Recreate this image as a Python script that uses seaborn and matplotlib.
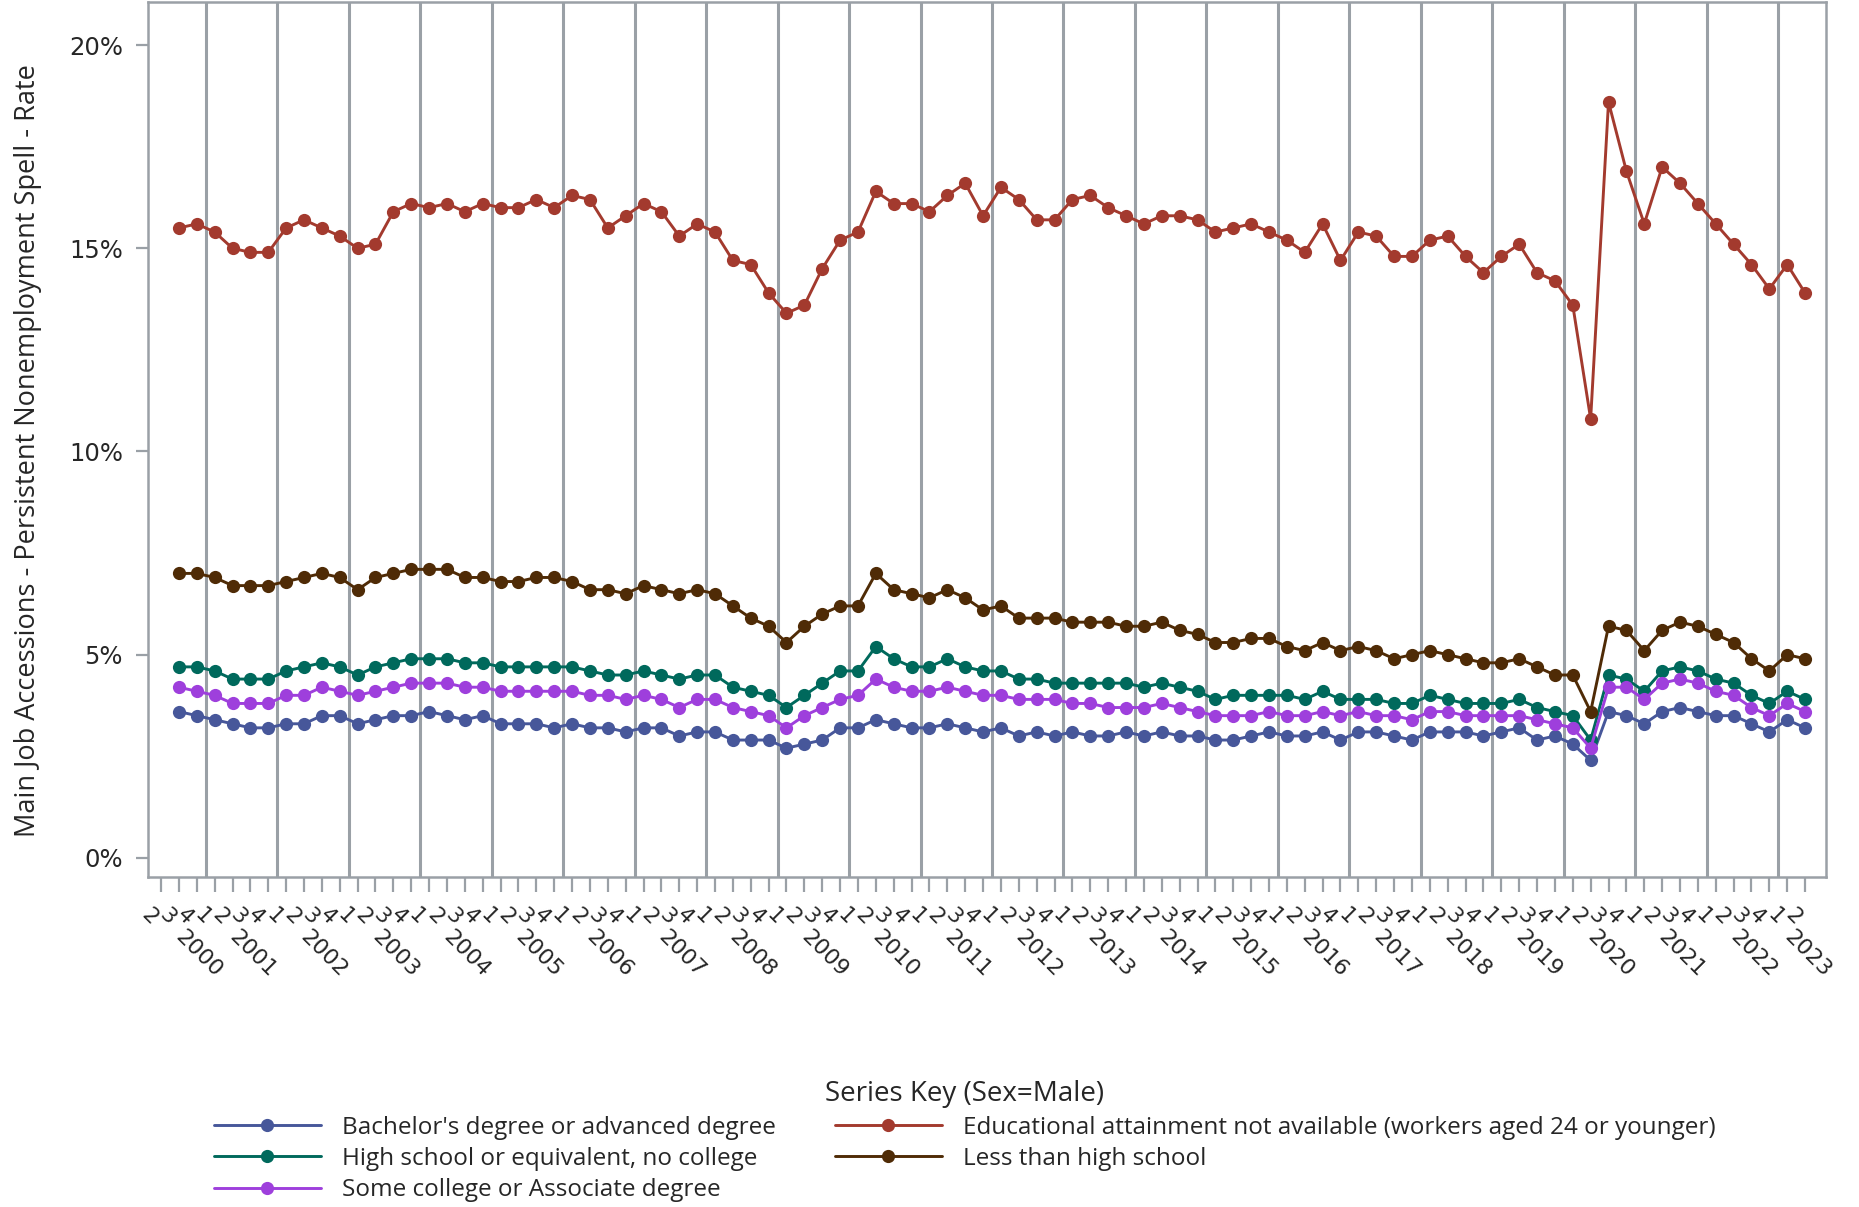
import numpy as np
import pandas as pd
import matplotlib
matplotlib.use("Agg")
import matplotlib.pyplot as plt
from matplotlib.lines import Line2D
from matplotlib.transforms import blended_transform_factory
import seaborn as sns

# ---------------- data ----------------
# x axis: 2000Q2 ... 2023Q2 (93 quarter ticks); data start at 2000Q3
quarter_labels = ["2", "3", "4"] + ["1", "2", "3", "4"] * 22 + ["1", "2"]
years = list(range(2000, 2024))

bachelor = [3.6, 3.5, 3.4, 3.3, 3.2, 3.2, 3.3, 3.3, 3.5, 3.5, 3.3, 3.4, 3.5, 3.5, 3.6, 3.5,
            3.4, 3.5, 3.3, 3.3, 3.3, 3.2, 3.3, 3.2, 3.2, 3.1, 3.2, 3.2, 3.0, 3.1, 3.1,
            2.9, 2.9, 2.9, 2.7, 2.8, 2.9, 3.2, 3.2, 3.4, 3.3, 3.2, 3.2, 3.3, 3.2, 3.1, 3.2,
            3.0, 3.1, 3.0, 3.1, 3.0, 3.0, 3.1, 3.0, 3.1, 3.0, 3.0, 2.9, 2.9, 3.0, 3.1,
            3.0, 3.0, 3.1, 2.9, 3.1, 3.1, 3.0, 2.9, 3.1, 3.1, 3.1, 3.0, 3.1, 3.2, 2.9,
            3.0, 2.8, 2.4, 3.6, 3.5, 3.3, 3.6, 3.7, 3.6, 3.5, 3.5, 3.3, 3.1, 3.4, 3.2]

high_school = [4.7, 4.7, 4.6, 4.4, 4.4, 4.4, 4.6, 4.7, 4.8, 4.7, 4.5, 4.7, 4.8, 4.9, 4.9, 4.9,
               4.8, 4.8, 4.7, 4.7, 4.7, 4.7, 4.7, 4.6, 4.5, 4.5, 4.6, 4.5, 4.4, 4.5, 4.5,
               4.2, 4.1, 4.0, 3.7, 4.0, 4.3, 4.6, 4.6, 5.2, 4.9, 4.7, 4.7, 4.9, 4.7, 4.6, 4.6,
               4.4, 4.4, 4.3, 4.3, 4.3, 4.3, 4.3, 4.2, 4.3, 4.2, 4.1, 3.9, 4.0, 4.0, 4.0,
               4.0, 3.9, 4.1, 3.9, 3.9, 3.9, 3.8, 3.8, 4.0, 3.9, 3.8, 3.8, 3.8, 3.9, 3.7,
               3.6, 3.5, 2.9, 4.5, 4.4, 4.1, 4.6, 4.7, 4.6, 4.4, 4.3, 4.0, 3.8, 4.1, 3.9]

some_college = [4.2, 4.1, 4.0, 3.8, 3.8, 3.8, 4.0, 4.0, 4.2, 4.1, 4.0, 4.1, 4.2, 4.3, 4.3, 4.3,
                4.2, 4.2, 4.1, 4.1, 4.1, 4.1, 4.1, 4.0, 4.0, 3.9, 4.0, 3.9, 3.7, 3.9, 3.9,
                3.7, 3.6, 3.5, 3.2, 3.5, 3.7, 3.9, 4.0, 4.4, 4.2, 4.1, 4.1, 4.2, 4.1, 4.0, 4.0,
                3.9, 3.9, 3.9, 3.8, 3.8, 3.7, 3.7, 3.7, 3.8, 3.7, 3.6, 3.5, 3.5, 3.5, 3.6,
                3.5, 3.5, 3.6, 3.5, 3.6, 3.5, 3.5, 3.4, 3.6, 3.6, 3.5, 3.5, 3.5, 3.5, 3.4,
                3.3, 3.2, 2.7, 4.2, 4.2, 3.9, 4.3, 4.4, 4.3, 4.1, 4.0, 3.7, 3.5, 3.8, 3.6]

not_available = [15.5, 15.6, 15.4, 15.0, 14.9, 14.9, 15.5, 15.7, 15.5, 15.3, 15.0, 15.1, 15.9,
                 16.1, 16.0, 16.1, 15.9, 16.1, 16.0, 16.0, 16.2, 16.0, 16.3, 16.2, 15.5, 15.8,
                 16.1, 15.9, 15.3, 15.6, 15.4,
                 14.7, 14.6, 13.9, 13.4, 13.6, 14.5, 15.2, 15.4, 16.4, 16.1, 16.1, 15.9, 16.3,
                 16.6, 15.8, 16.5, 16.2, 15.7, 15.7, 16.2, 16.3, 16.0, 15.8, 15.6, 15.8, 15.8,
                 15.7, 15.4, 15.5, 15.6, 15.4,
                 15.2, 14.9, 15.6, 14.7, 15.4, 15.3, 14.8, 14.8, 15.2, 15.3, 14.8, 14.4, 14.8,
                 15.1, 14.4, 14.2, 13.6, 10.8, 18.6, 16.9, 15.6, 17.0, 16.6, 16.1, 15.6, 15.1,
                 14.6, 14.0, 14.6, 13.9]

less_than_hs = [7.0, 7.0, 6.9, 6.7, 6.7, 6.7, 6.8, 6.9, 7.0, 6.9, 6.6, 6.9, 7.0, 7.1, 7.1, 7.1,
                6.9, 6.9, 6.8, 6.8, 6.9, 6.9, 6.8, 6.6, 6.6, 6.5, 6.7, 6.6, 6.5, 6.6, 6.5,
                6.2, 5.9, 5.7, 5.3, 5.7, 6.0, 6.2, 6.2, 7.0, 6.6, 6.5, 6.4, 6.6, 6.4, 6.1, 6.2,
                5.9, 5.9, 5.9, 5.8, 5.8, 5.8, 5.7, 5.7, 5.8, 5.6, 5.5, 5.3, 5.3, 5.4, 5.4,
                5.2, 5.1, 5.3, 5.1, 5.2, 5.1, 4.9, 5.0, 5.1, 5.0, 4.9, 4.8, 4.8, 4.9, 4.7,
                4.5, 4.5, 3.6, 5.7, 5.6, 5.1, 5.6, 5.8, 5.7, 5.5, 5.3, 4.9, 4.6, 5.0, 4.9]

series_names = ["Bachelor's degree or advanced degree",
                "High school or equivalent, no college",
                "Some college or Associate degree",
                "Educational attainment not available (workers aged 24 or younger)",
                "Less than high school"]
series_values = [bachelor, high_school, some_college, not_available, less_than_hs]
series_colors = ["#47579a", "#00695c", "#9e3fdc", "#a33a2e", "#4f2b06"]

y_ticks = [0, 5, 10, 15, 20]
y_ticklabels = ["0%", "5%", "10%", "15%", "20%"]

# ---------------- frame ----------------
rows = []
for name, vals in zip(series_names, series_values):
    for i, v in enumerate(vals):
        rows.append({"pos": i + 1, "value": v, "series": name})
df = pd.DataFrame(rows)

sns.set_theme(style="white")
plt.rcParams["font.family"] = ["Open Sans", "DejaVu Sans"]

W, H = 1859, 1207
fig = plt.figure(figsize=(W / 100, H / 100), dpi=100)
L, R, T, B = 148, 1826, 2, 877
ax = fig.add_axes([L / W, 1 - B / H, (R - L) / W, (B - T) / H])

grey = "#9aa0a6"
for k in range(23):
    ax.axvline(2.5 + 4 * k, color=grey, lw=2.2, zorder=0.5)

sns.lineplot(data=df, x="pos", y="value", hue="series", hue_order=series_names,
             palette=series_colors, marker="o", markersize=9.5, markeredgewidth=0,
             linewidth=2.1, sort=False, legend=False, ax=ax, zorder=3)

ax.set_xlim(-0.73, 93.17)
ax.set_ylim(-0.47, 21.06)

ax.set_xticks(range(len(quarter_labels)))
ax.set_xticklabels(quarter_labels, fontfamily="DejaVu Sans", fontsize=15.5)
plt.setp(ax.get_xticklabels(), rotation=-45, ha="right", va="top", rotation_mode="default")
ax.set_yticks(y_ticks)
ax.set_yticklabels(y_ticklabels, fontfamily="DejaVu Sans", fontsize=17.5)

ax.tick_params(axis="x", direction="out", length=11, width=1.6, color=grey, pad=9,
               bottom=True)
ax.tick_params(axis="y", direction="out", length=9, width=1.6, color=grey, pad=9,
               left=True)
for s in ax.spines.values():
    s.set_color(grey)
    s.set_linewidth(1.8)

ax.set_xlabel("")
ax.set_ylabel("Main Job Accessions - Persistent Nonemployment Spell - Rate", fontsize=19.5)
ax.yaxis.set_label_coords(-0.063, 0.487)

# year labels placed under the quarters of data in each year
trans = blended_transform_factory(ax.transData, ax.transAxes)
for yr in years:
    pos = [i + 1 for i in range(len(bachelor))
           if 2000 + (i + 2) // 4 == yr]
    cx = (min(pos) + max(pos)) / 2
    ax.text(cx - 0.9, -0.057, str(yr), transform=trans, rotation=-45,
            rotation_mode="default", ha="left", va="top", fontsize=16,
            fontfamily="DejaVu Sans")

handles = [Line2D([], [], color=c, lw=2.1, marker="o", markersize=9.5, markeredgewidth=0)
           for c in series_colors]
leg = fig.legend(handles, series_names, loc="upper center", bbox_to_anchor=(0.519, 0.119),
                 ncol=2, frameon=False, title="Series Key (Sex=Male)", fontsize=17.5,
                 title_fontsize=20, handlelength=4.4, handletextpad=0.9,
                 columnspacing=2.4, labelspacing=0.3, numpoints=1, borderpad=0.2)

fig.savefig("out.png", dpi=100)
